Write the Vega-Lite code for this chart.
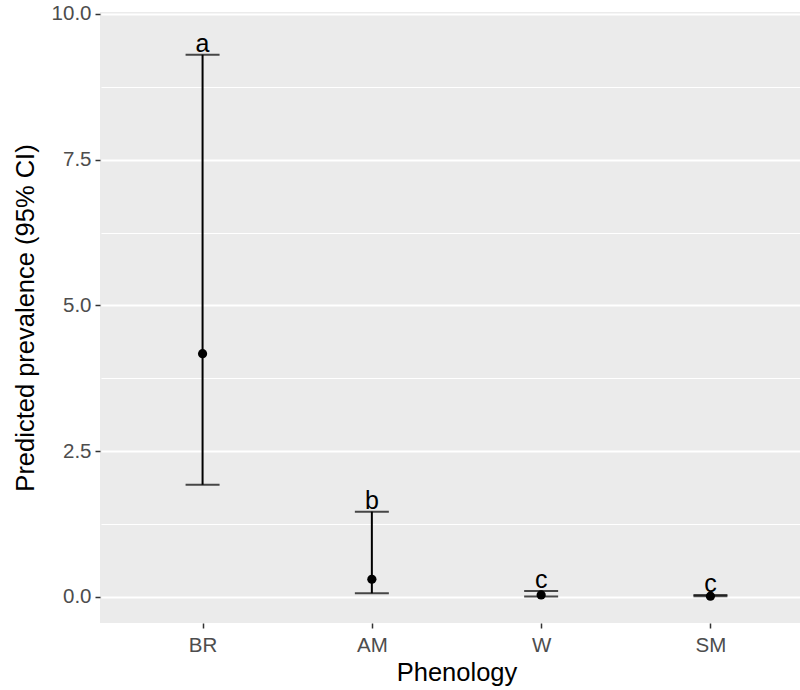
{
  "$schema": "https://vega.github.io/schema/vega-lite/v6.json",
  "autosize": {"type": "none"},
  "width": 700,
  "height": 611,
  "padding": {"left": 100, "top": 12, "right": 0, "bottom": 67},
  "background": "white",
  "config": {
    "view": {"fill": "#EBEBEB", "stroke": null},
    "font": "Liberation Sans",
    "axis": {
      "domain": false,
      "gridColor": "white",
      "tickColor": "#333333",
      "tickSize": 5,
      "tickWidth": 1.5,
      "labelColor": "#4D4D4D",
      "labelFont": "Liberation Sans",
      "labelFontSize": 20.5,
      "titleFont": "Liberation Sans",
      "titleFontSize": 25.5,
      "titleFontWeight": "normal",
      "titleColor": "black"
    }
  },
  "data": {
    "values": [
      {"Phenology": "BR", "est": 4.17, "lower": 1.92, "upper": 9.30, "label": "a"},
      {"Phenology": "AM", "est": 0.30, "lower": 0.06, "upper": 1.46, "label": "b"},
      {"Phenology": "W", "est": 0.03, "lower": 0.005, "upper": 0.10, "label": "c"},
      {"Phenology": "SM", "est": 0.01, "lower": 0.01, "upper": 0.03, "label": "c"}
    ]
  },
  "encoding": {
    "x": {
      "field": "Phenology",
      "type": "nominal",
      "sort": ["BR", "AM", "W", "SM"],
      "scale": {"type": "point", "padding": 0.6, "range": [1, 712]},
      "axis": {
        "title": "Phenology",
        "labelAngle": 0,
        "gridWidth": 2,
        "labelPadding": 7,
        "titlePadding": 5
      }
    }
  },
  "layer": [
    {
      "mark": {"type": "rule", "color": "black", "strokeWidth": 2},
      "encoding": {
        "y": {
          "field": "lower",
          "type": "quantitative",
          "title": "Predicted prevalence (95% CI)",
          "scale": {"domain": [-0.451, 10.034], "nice": false, "zero": false},
          "axis": {
            "values": [0, 1.25, 2.5, 3.75, 5, 6.25, 7.5, 8.75, 10],
            "labelExpr": "datum.value % 2.5 === 0 ? format(datum.value, '.1f') : ''",
            "gridWidth": {"condition": {"test": "datum.value % 2.5 === 0", "value": 2}, "value": 1},
            "tickOpacity": {"condition": {"test": "datum.value % 2.5 === 0", "value": 1}, "value": 0},
            "labelPadding": 4,
            "titlePadding": 13
          }
        },
        "y2": {"field": "upper"}
      }
    },
    {
      "mark": {"type": "tick", "color": "black", "size": 34, "thickness": 2},
      "encoding": {
        "y": {"field": "upper", "type": "quantitative", "title": "Predicted prevalence (95% CI)"}
      }
    },
    {
      "mark": {"type": "tick", "color": "black", "size": 34, "thickness": 2},
      "encoding": {
        "y": {"field": "lower", "type": "quantitative", "title": "Predicted prevalence (95% CI)"}
      }
    },
    {
      "mark": {"type": "point", "filled": true, "color": "black", "size": 85, "opacity": 1},
      "encoding": {
        "y": {"field": "est", "type": "quantitative", "title": "Predicted prevalence (95% CI)"}
      }
    },
    {
      "mark": {"type": "text", "color": "black", "fontSize": 25, "baseline": "alphabetic", "dy": -3, "font": "Liberation Sans"},
      "encoding": {
        "y": {"field": "upper", "type": "quantitative", "title": "Predicted prevalence (95% CI)"},
        "text": {"field": "label"}
      }
    }
  ]
}
